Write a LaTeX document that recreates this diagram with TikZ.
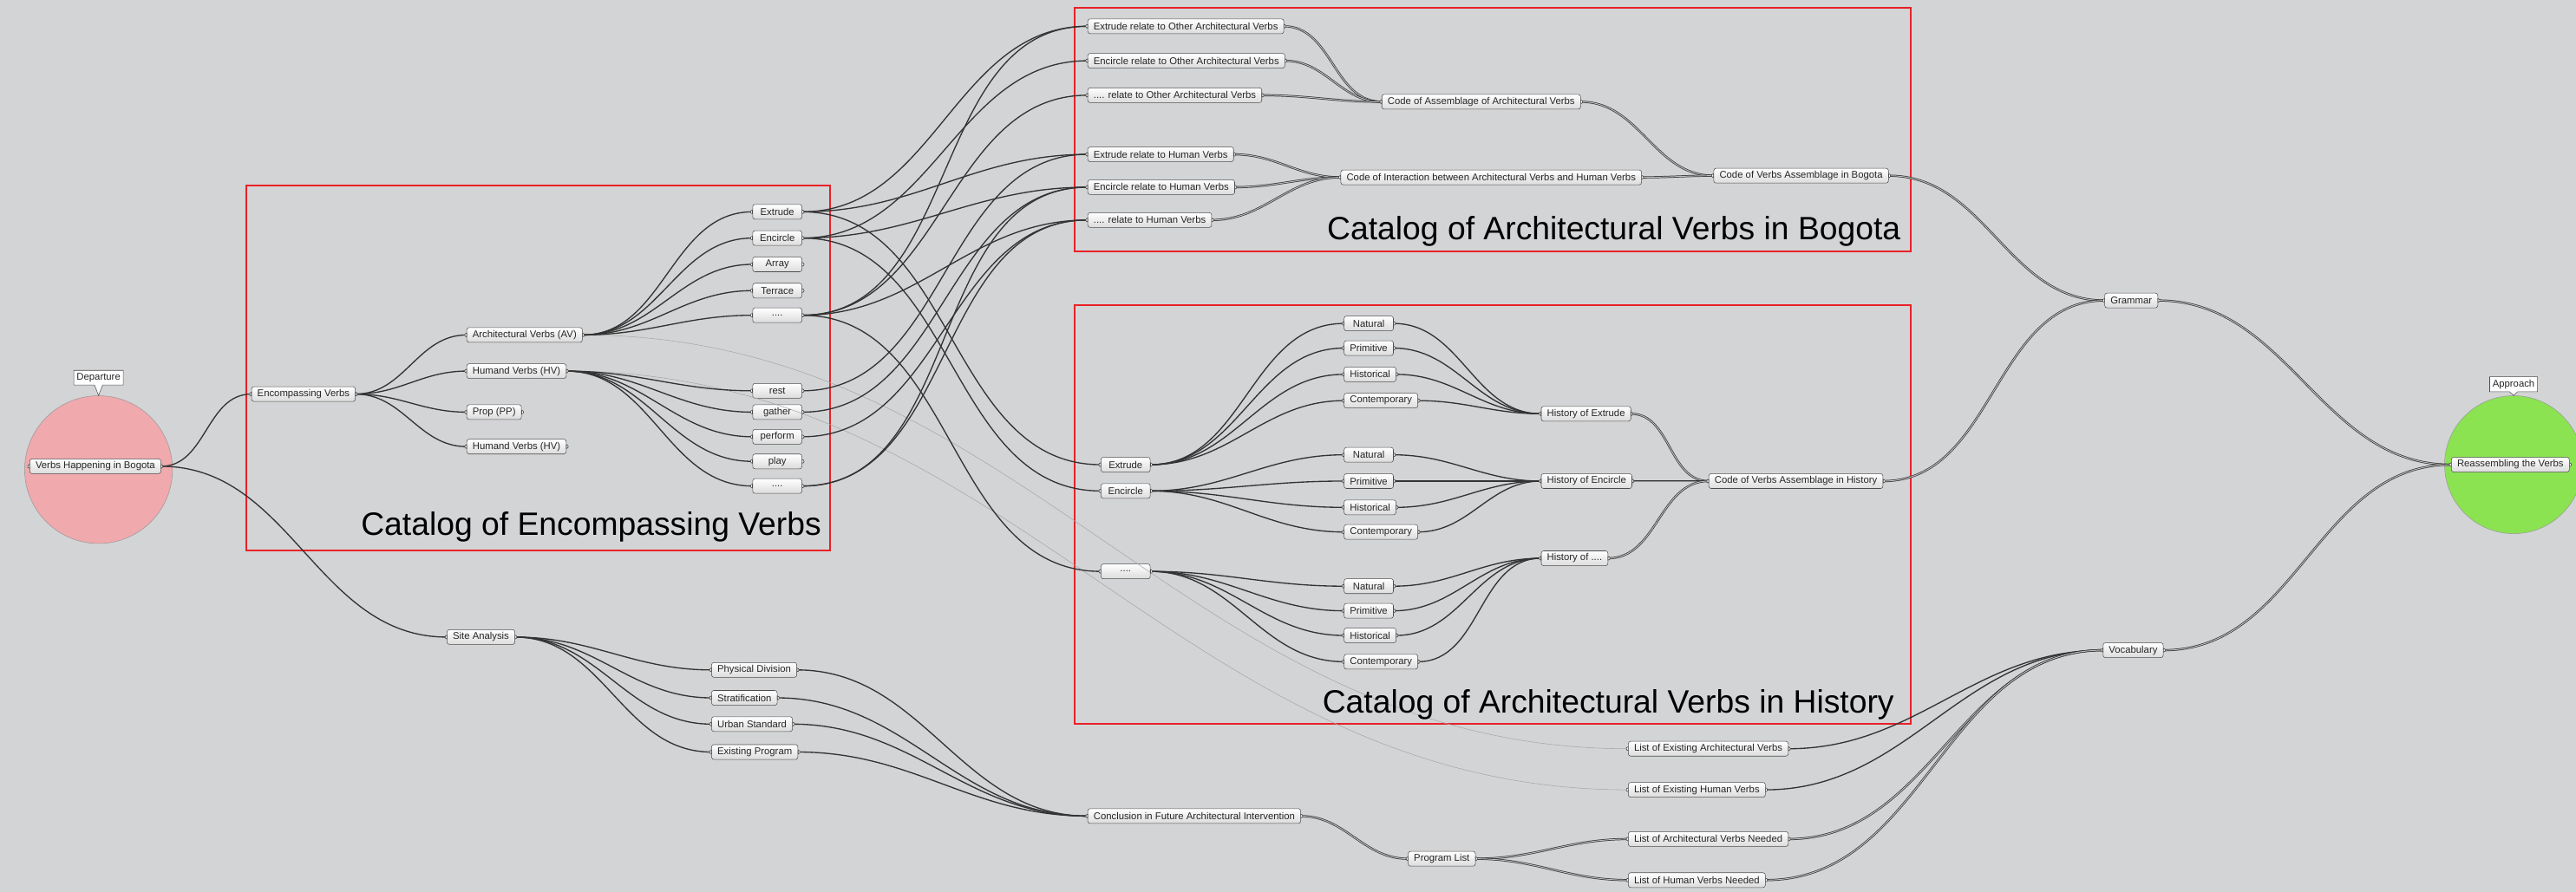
\documentclass[tikz,border=0pt]{standalone}
\usepackage{fontspec}
\newfontfamily\ghfont{Liberation Sans}
\usepackage{xcolor}
\definecolor{canvas}{HTML}{D3D4D6}
\definecolor{frame}{HTML}{E82127}
\definecolor{departure}{HTML}{F0A9AD}
\definecolor{approach}{HTML}{8BE352}
\definecolor{wirecol}{HTML}{333333}
\usepackage{tikz}
\usetikzlibrary{shapes.callouts, calc}

\begin{document}
\begin{tikzpicture}[x=0.05cm, y=-0.05cm,
  param/.style={draw=black!70, top color=white, bottom color=black!14,
    rounded corners=2pt, minimum height=0.45cm, inner xsep=5pt, inner ysep=1pt,
    anchor=west, text=black!85, font=\ghfont\fontsize{8.5}{10}\selectfont},
  leaf/.style={param, minimum width=1.5cm},
  hub/.style={circle, draw=black!40, minimum size=4.5cm},
  tag/.style={rectangle callout, draw=black!70, fill=white, inner sep=2.5pt,
    text=black!85, font=\ghfont\fontsize{8.5}{10}\selectfont},
  catbox/.style={draw=frame, line width=1.5pt},
  cattitle/.style={anchor=east, inner sep=0pt, font=\ghfont\fontsize{28}{31}\selectfont},
  wire/.style={draw=wirecol, line width=1pt},
  dwire/.style={draw=wirecol, line width=0.55pt, double=black!25, double distance=0.7pt},
  ghost/.style={draw=black!35, line width=0.4pt},
  grip/.style={draw=black!70, fill=white, line width=0.5pt}]

  % canvas
  \fill[canvas] (0,0) rectangle (1568,543);
  \useasboundingbox (0,0) rectangle (1568,543);

  % catalog frames
  \draw[catbox] (150,113) rectangle (505,335);
  \draw[catbox] (654,5) rectangle (1163,153);
  \draw[catbox] (654,186) rectangle (1163,441);

  % departure and approach
  \node[hub, fill=departure] (depc) at (60,286) {};
  \node[hub, fill=approach, minimum size=4.2cm] (appc) at (1530,283) {};
  \node[tag, callout absolute pointer={(depc.north)}] (dep) at (60,230) {Departure};
  \node[tag, callout absolute pointer={(appc.north)}] (app) at (1530,234) {Approach};
  \node[param] (vhb) at (18,284) {Verbs Happening in Bogota};
  \node[param] (rtv) at (1492,283) {Reassembling the Verbs};

  % encompassing verbs
  \node[param] (enc) at (153,240) {Encompassing Verbs};
  \node[param] (av) at (284,204) {Architectural Verbs (AV)};
  \node[param] (hv) at (284,226) {Humand Verbs (HV)};
  \node[param] (pp) at (284,251) {Prop (PP)};
  \node[param] (hv2) at (284,272) {Humand Verbs (HV)};
  \node[leaf] (ex) at (458,129) {Extrude};
  \node[leaf] (en) at (458,145) {Encircle};
  \node[leaf] (ar) at (458,161) {Array};
  \node[leaf] (te) at (458,177) {Terrace};
  \node[leaf] (dta) at (458,192) {....};
  \node[leaf] (re) at (458,238) {rest};
  \node[leaf] (ga) at (458,251) {gather};
  \node[leaf] (pe) at (458,266) {perform};
  \node[leaf] (pla) at (458,281) {play};
  \node[leaf] (dth) at (458,296) {....};

  % verbs in bogota
  \node[param] (exoav) at (662,16) {Extrude relate to Other Architectural Verbs};
  \node[param] (enoav) at (662,37) {Encircle relate to Other Architectural Verbs};
  \node[param] (dtoav) at (662,58) {.... relate to Other Architectural Verbs};
  \node[param] (exhv) at (662,94) {Extrude relate to Human Verbs};
  \node[param] (enhv) at (662,114) {Encircle relate to Human Verbs};
  \node[param] (dthv) at (662,134) {.... relate to Human Verbs};
  \node[param] (caav) at (841,62) {Code of Assemblage of Architectural Verbs};
  \node[param] (ciav) at (816,108) {Code of Interaction between Architectural Verbs and Human Verbs};
  \node[param] (cvb) at (1043,107) {Code of Verbs Assemblage in Bogota};

  % verbs in history
  \node[leaf] (hex) at (670,283) {Extrude};
  \node[leaf] (hen) at (670,299) {Encircle};
  \node[leaf] (hdt) at (670,348) {....};
  \node[leaf] (nat1) at (818,197) {Natural};
  \node[leaf] (prim1) at (818,212) {Primitive};
  \node[leaf] (hist1) at (818,228) {Historical};
  \node[leaf] (cont1) at (818,244) {Contemporary};
  \node[leaf] (nat2) at (818,277) {Natural};
  \node[leaf] (prim2) at (818,293) {Primitive};
  \node[leaf] (hist2) at (818,309) {Historical};
  \node[leaf] (cont2) at (818,324) {Contemporary};
  \node[leaf] (nat3) at (818,357) {Natural};
  \node[leaf] (prim3) at (818,372) {Primitive};
  \node[leaf] (hist3) at (818,387) {Historical};
  \node[leaf] (cont3) at (818,403) {Contemporary};
  \node[param] (hoe) at (938,252) {History of Extrude};
  \node[param] (hoen) at (938,293) {History of Encircle};
  \node[param] (hodt) at (938,340) {History of ....};
  \node[param] (cvh) at (1040,293) {Code of Verbs Assemblage in History};

  % site analysis and lists
  \node[param] (sa) at (272,388) {Site Analysis};
  \node[param] (pd) at (433,408) {Physical Division};
  \node[param] (st) at (433,425) {Stratification};
  \node[param] (us) at (433,441) {Urban Standard};
  \node[param] (ep) at (433,458) {Existing Program};
  \node[param] (concl) at (662,497) {Conclusion in Future Architectural Intervention};
  \node[param] (pl) at (857,523) {Program List};
  \node[param] (leav) at (991,456) {List of Existing Architectural Verbs};
  \node[param] (lehv) at (991,481) {List of Existing Human Verbs};
  \node[param] (lavn) at (991,511) {List of Architectural Verbs Needed};
  \node[param] (lhvn) at (991,536) {List of Human Verbs Needed};
  \node[param] (gram) at (1281,183) {Grammar};
  \node[param] (voc) at (1280,396) {Vocabulary};

  % wires
  \draw[ghost] (av.east) to[out=0, in=180] (leav.west);
  \draw[ghost] (hv.east) to[out=0, in=180] (lehv.west);
  \draw[wire] (vhb.east) to[out=0, in=180] (enc.west);
  \draw[wire] (vhb.east) to[out=0, in=180] (sa.west);
  \foreach \tgt in {av, hv, pp, hv2}
    \draw[wire] (enc.east) to[out=0, in=180] (\tgt.west);
  \foreach \tgt in {ex, en, ar, te, dta}
    \draw[wire] (av.east) to[out=0, in=180] (\tgt.west);
  \foreach \tgt in {re, ga, pe, pla, dth}
    \draw[wire] (hv.east) to[out=0, in=180] (\tgt.west);
  \foreach \src/\tgt in {ex/exoav, ex/exhv, ex/hex, en/enoav, en/enhv, en/hen,
      dta/exoav, dta/dtoav, dta/dthv, dta/hdt, re/exhv, ga/enhv, pe/dthv,
      dth/enhv, dth/dthv}
    \draw[wire] (\src.east) to[out=0, in=180] (\tgt.west);
  \foreach \src/\grp in {hex/1, hen/2, hdt/3}
    \foreach \k in {nat, prim, hist, cont}
      \draw[wire] (\src.east) to[out=0, in=180] (\k\grp.west);
  \foreach \grp/\tgt in {1/hoe, 2/hoen, 3/hodt}
    \foreach \k in {nat, prim, hist, cont}
      \draw[wire] (\k\grp.east) to[out=0, in=180] (\tgt.west);
  \foreach \tgt in {pd, st, us, ep} {
    \draw[wire] (sa.east) to[out=0, in=180] (\tgt.west);
    \draw[wire] (\tgt.east) to[out=0, in=180] (concl.west);
  }
  \draw[wire] (leav.east) to[out=0, in=180] (voc.west);
  \draw[wire] (lehv.east) to[out=0, in=180] (voc.west);
  \foreach \src/\tgt in {exoav/caav, enoav/caav, dtoav/caav, exhv/ciav, enhv/ciav,
      dthv/ciav, caav/cvb, ciav/cvb, hoe/cvh, hoen/cvh, hodt/cvh, cvb/gram,
      cvh/gram, gram/rtv, voc/rtv, concl/pl, pl/lavn, pl/lhvn, lavn/voc, lhvn/voc}
    \draw[dwire] (\src.east) to[out=0, in=180] (\tgt.west);

  % grips
  \foreach \n in {vhb, rtv, enc, av, hv, pp, hv2, ex, en, ar, te, dta, re, ga, pe,
      pla, dth, exoav, enoav, dtoav, exhv, enhv, dthv, caav, ciav, cvb, hex, hen,
      hdt, nat1, prim1, hist1, cont1, nat2, prim2, hist2, cont2, nat3, prim3,
      hist3, cont3, hoe, hoen, hodt, cvh, sa, pd, st, us, ep, concl, pl, leav,
      lehv, lavn, lhvn, gram, voc} {
    \draw[grip] ([yshift=1.6pt]\n.west) arc[start angle=90, end angle=270, radius=1.6pt] -- cycle;
    \draw[grip] ([yshift=1.6pt]\n.east) arc[start angle=90, end angle=-90, radius=1.6pt] -- cycle;
  }

  % catalog titles
  \node[cattitle] (tenc) at (500,321) {Catalog of Encompassing Verbs};
  \node[cattitle] (tbog) at (1157,141) {Catalog of Architectural Verbs in Bogota};
  \node[cattitle] (thist) at (1153,429) {Catalog of Architectural Verbs in History};
\end{tikzpicture}
\end{document}
